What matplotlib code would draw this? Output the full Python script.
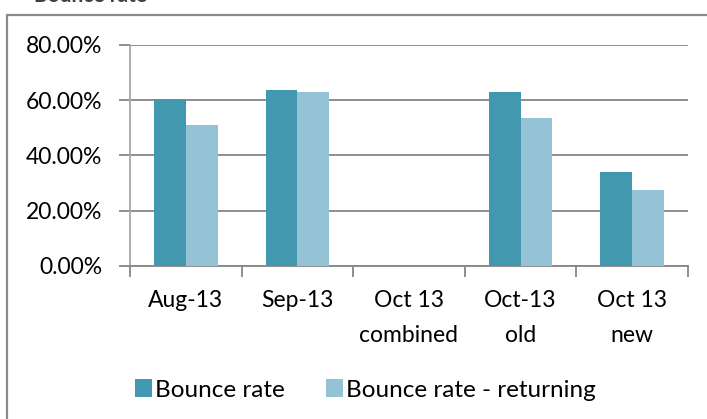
import matplotlib.pyplot as plt
from matplotlib.patches import Rectangle
from matplotlib.ticker import FuncFormatter
import numpy as np

categories = ['Aug-13', 'Sep-13', 'Oct 13\ncombined', 'Oct-13\nold', 'Oct 13\nnew']
bounce_rate = [60.3, 63.6, np.nan, 62.9, 34.0]
bounce_returning = [51.0, 62.9, np.nan, 53.5, 27.4]
series_names = ['Bounce rate', 'Bounce rate - returning']

dark = '#4298AF'
light = '#93C3D4'
grid_col = '#868686'
fs = 16.5

plt.rcParams['font.family'] = ['Lato', 'DejaVu Sans']

fig = plt.figure(figsize=(7.07, 4.19), dpi=100)
ax = fig.add_axes([130 / 707, 1 - 266 / 419, 558 / 707, 221 / 419])

x = np.arange(len(categories))
w = 0.2857
ax.bar(x - w / 2, bounce_rate, w, color=dark, label=series_names[0], zorder=3)
ax.bar(x + w / 2, bounce_returning, w, color=light, label=series_names[1], zorder=3)

ax.set_xlim(-0.5, len(categories) - 0.5)
ax.set_ylim(0, 80)
ax.set_yticks([0, 20, 40, 60, 80])
ax.yaxis.set_major_formatter(FuncFormatter(lambda v, p: f'{v:.2f}%'))
ax.yaxis.grid(True, color=grid_col, linewidth=1.3, zorder=0)

# category boundary ticks like excel
ax.set_xticks(np.arange(len(categories) + 1) - 0.5)
ax.set_xticklabels([])
ax.set_xticks(x, minor=True)
ax.set_xticklabels(categories, minor=True, fontsize=fs, linespacing=1.85)
ax.tick_params(axis='x', which='minor', length=0, pad=17)
ax.tick_params(axis='x', which='major', length=8, width=1.3, color=grid_col, direction='out')
ax.tick_params(axis='y', length=8, width=1.3, color=grid_col, labelsize=fs, pad=12)

for s in ['top', 'right']:
    ax.spines[s].set_visible(False)
ax.spines['left'].set_color('#a6a6a6')
ax.spines['left'].set_linewidth(1.3)
ax.spines['bottom'].set_color(grid_col)
ax.spines['bottom'].set_linewidth(1.3)

fig.legend(loc='center left', bbox_to_anchor=(125 / 707, 1 - 390 / 419), ncol=2,
           frameon=False, fontsize=17.5, handlelength=0.7, handleheight=0.7,
           handletextpad=0.12, columnspacing=1.7, borderaxespad=0)

# outer chart frame
fig.patches.append(Rectangle((7 / 707, -0.05), 1.1, 1 - 15 / 419 + 0.05,
                             transform=fig.transFigure, fill=False,
                             edgecolor='#8c8c8c', linewidth=1.6))
fig.text(34 / 707, 1 - 1.5 / 419, 'Bounce rate', fontsize=15, fontweight='bold',
         color='#404040', va='baseline')

fig.savefig('out.png', dpi=100)
